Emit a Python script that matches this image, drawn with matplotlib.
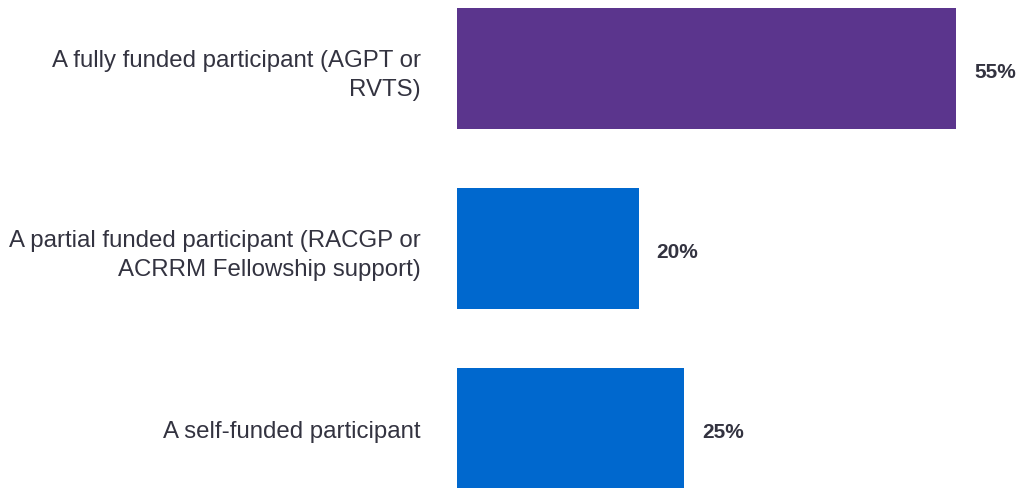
import matplotlib.pyplot as plt

plt.rcParams['font.family'] = ['Liberation Sans', 'DejaVu Sans']

# Data
categories = [
    "A fully funded participant (AGPT or\nRVTS)",
    "A partial funded participant (RACGP or\nACRRM Fellowship support)",
    "A self-funded participant",
]
values = [55, 20, 25]
colors = ["#5B358D", "#0068CE", "#0068CE"]

text_color = "#333340"

fig = plt.figure(figsize=(10.17, 4.89), dpi=100)
ax = fig.add_axes([457 / 1017, 0, 560 / 1017, 1])

pos = range(len(values))
ax.barh(pos, values, height=0.67, color=colors)

for y, v in zip(pos, values):
    ax.annotate(f"{v}%", xy=(v, y), xytext=(13, -2), textcoords="offset points",
                va="center", ha="left", fontsize=15, fontweight="bold",
                color=text_color)

ax.set_xlim(0, 61.7)
ax.set_ylim(2.33, -0.385)
ax.set_yticks(list(pos))
ax.set_yticklabels(categories, fontsize=17.3, color=text_color, linespacing=1.4)
ax.tick_params(axis="y", length=0, pad=26)
ax.set_xticks([])
for s in ax.spines.values():
    s.set_visible(False)

fig.savefig("out.png", dpi=100)
